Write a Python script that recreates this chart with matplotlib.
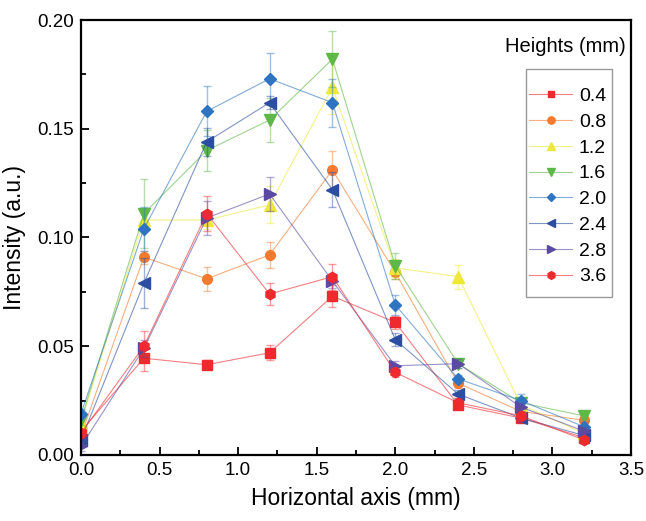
import matplotlib
matplotlib.use('Agg')
import matplotlib.pyplot as plt
from matplotlib.colors import to_rgba
from matplotlib.ticker import MultipleLocator
from matplotlib.patches import Rectangle

plt.rcParams['font.family'] = ['Liberation Sans', 'DejaVu Sans']

# data
x = [0.0, 0.4, 0.8, 1.2, 1.6, 2.0, 2.4, 2.8, 3.2]
labels = ['0.4', '0.8', '1.2', '1.6', '2.0', '2.4', '2.8', '3.6']

h04 = [0.011, 0.0445, 0.0415, 0.047, 0.073, 0.061, 0.023, 0.017, 0.008]
h08 = [0.009, 0.091, 0.081, 0.092, 0.131, 0.084, 0.033, 0.020, 0.016]
h12 = [0.015, 0.108, 0.108, 0.115, 0.169, 0.086, 0.082, 0.023, 0.010]
h16 = [0.016, 0.111, 0.140, 0.154, 0.182, 0.087, 0.042, 0.024, 0.018]
h20 = [0.019, 0.104, 0.158, 0.173, 0.162, 0.069, 0.035, 0.025, 0.013]
h24 = [0.007, 0.079, 0.144, 0.162, 0.122, 0.053, 0.028, 0.017, 0.009]
h28 = [0.004, 0.049, 0.109, 0.120, 0.080, 0.041, 0.042, 0.022, 0.011]
h36 = [0.010, 0.050, 0.111, 0.074, 0.082, 0.038, 0.024, 0.018, 0.007]

e04 = [0.002, 0.006, 0.002, 0.0035, 0.005, 0.003, 0.002, 0.002, 0.001]
e08 = [0.002, 0.003, 0.0055, 0.006, 0.009, 0.003, 0.002, 0.002, 0.002]
e12 = [0.002, 0.004, 0.004, 0.0085, 0.012, 0.004, 0.0055, 0.002, 0.002]
e16 = [0.002, 0.016, 0.0095, 0.010, 0.013, 0.006, 0.002, 0.002, 0.002]
e20 = [0.002, 0.010, 0.0115, 0.012, 0.011, 0.0045, 0.002, 0.003, 0.002]
e24 = [0.002, 0.0115, 0.0065, 0.003, 0.008, 0.003, 0.002, 0.002, 0.002]
e28 = [0.002, 0.004, 0.008, 0.008, 0.003, 0.002, 0.002, 0.002, 0.002]
e36 = [0.002, 0.007, 0.008, 0.005, 0.006, 0.002, 0.002, 0.002, 0.001]

series = [h04, h08, h12, h16, h20, h24, h28, h36]
errors = [e04, e08, e12, e16, e20, e24, e28, e36]
colors = ['#EE2A2F', '#F37A2E', '#EDE83B', '#5DB847', '#2F74C0', '#2B4EA2', '#5A4AA3', '#EE2A2F']
markers = ['s', 'o', '^', 'v', 'D', '<', '>', 'h']
msizes = [6.5, 7, 8, 8, 6, 8, 8, 7.5]

fig = plt.figure(figsize=(6.46, 5.21), dpi=100)
ax = fig.add_axes([0.1254, 0.1267, 0.8514, 0.8349])

handles = []
for y, e, c, m, ms, lab in zip(series, errors, colors, markers, msizes, labels):
    ax.errorbar(x, y, yerr=e, fmt='none', ecolor=to_rgba(c, 0.45), elinewidth=1,
                capsize=3, capthick=1)
    ln, = ax.plot(x, y, color=to_rgba(c, 0.6), lw=0.8, marker=m, ms=ms,
                  mfc=c, mec=c, label=lab)
    handles.append(ln)

ax.set_xlim(0, 3.5)
ax.set_ylim(0, 0.2)
ax.xaxis.set_major_locator(MultipleLocator(0.5))
ax.xaxis.set_minor_locator(MultipleLocator(0.25))
ax.yaxis.set_major_locator(MultipleLocator(0.05))
ax.yaxis.set_minor_locator(MultipleLocator(0.025))
ax.xaxis.set_major_formatter(matplotlib.ticker.FormatStrFormatter('%.1f'))
ax.yaxis.set_major_formatter(matplotlib.ticker.FormatStrFormatter('%.2f'))
ax.tick_params(which='both', direction='in', top=False, right=False, width=1.3,
               labelsize=13.5, pad=5)
ax.tick_params(which='major', length=6)
ax.tick_params(which='minor', length=3.5)
for s in ax.spines.values():
    s.set_linewidth(1.6)

ax.set_xlabel('Horizontal axis (mm)', fontsize=16.5, labelpad=6)
ax.set_ylabel('Intensity (a.u.)', fontsize=16.5, labelpad=8)

ax.text(0.88, 0.94, 'Heights (mm)', transform=ax.transAxes, ha='center', va='center',
        fontsize=14.5)
# legend box drawn separately (Origin style: title outside the frame)
ax.add_patch(Rectangle((0.809, 0.363), 0.156, 0.524, transform=ax.transAxes,
                       facecolor='white', edgecolor='#999999', lw=1, zorder=4))
leg = ax.legend(handles=handles, loc='upper left', bbox_to_anchor=(0.815, 0.845),
                borderaxespad=0, borderpad=0, fontsize=14, handlelength=2.2,
                labelspacing=0.42, handletextpad=0.35, markerscale=0.75,
                frameon=False)
leg.set_zorder(5)

plt.savefig('out.png', dpi=100)
